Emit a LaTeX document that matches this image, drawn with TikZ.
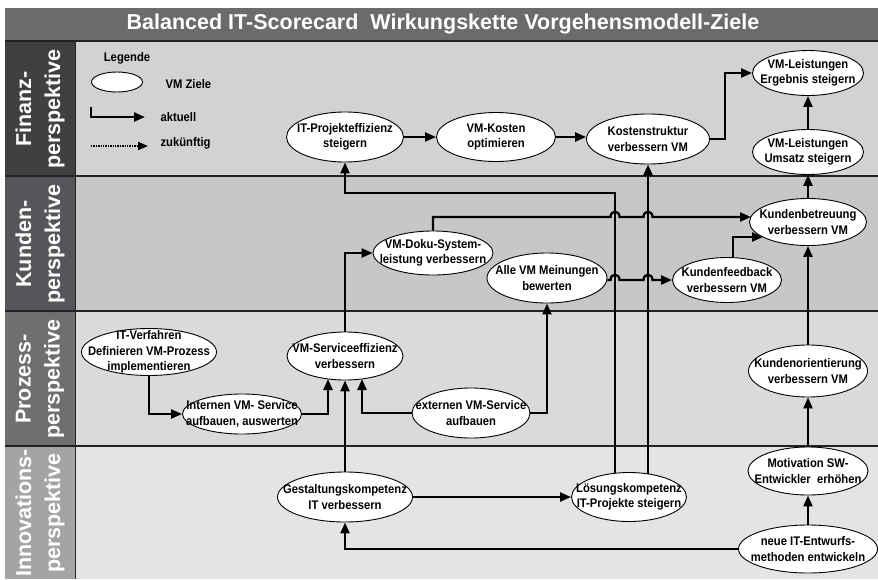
\documentclass[tikz,border=0pt]{standalone}
\usepackage{fontspec}
\setmainfont{Liberation Sans}
\newfontfamily\goalfont{Liberation Sans}[FakeStretch=0.9]
\usetikzlibrary{arrows.meta,shapes.geometric}
\pgfdeclarelayer{back}
\pgfdeclarelayer{mid}
\pgfsetlayers{back,mid,main}

\definecolor{titlegray}{HTML}{6B6B6E}
\definecolor{finhead}{HTML}{404042}
\definecolor{kunhead}{HTML}{555659}
\definecolor{prohead}{HTML}{6F6F72}
\definecolor{innhead}{HTML}{A4A4A7}
\definecolor{finlane}{HTML}{D1D2D4}
\definecolor{kunlane}{HTML}{C6C7C9}
\definecolor{prolane}{HTML}{D9DADC}
\definecolor{innlane}{HTML}{E4E4E6}
\definecolor{rule}{HTML}{222222}

\tikzset{
  goal/.style={ellipse, draw=black, line width=0.9pt, fill=white,
    inner xsep=-30pt, inner ysep=-15pt, align=center,
    font=\goalfont\bfseries\fontsize{12.5}{15.5}\selectfont},
  flow/.style={line width=2.3pt, -{Triangle[length=11pt,width=9pt]}},
  future/.style={line width=1.9pt, dash pattern=on 1.3pt off 1.1pt,
    -{Triangle[length=10pt,width=8pt]}},
  lanehead/.style={rotate=90, text=white, align=center,
    font=\bfseries\fontsize{21.5}{29}\selectfont},
  legendtext/.style={font=\goalfont\bfseries\fontsize{12.5}{14}\selectfont},
  sep/.style={draw=rule, line width=1.1pt},
}

\begin{document}
\begin{tikzpicture}[x=1pt,y=-1pt]
\useasboundingbox (0,0) rectangle (878,579);

% ---------- frame: title bar, lanes, lane headings ----------
\begin{pgfonlayer}{back}
  \fill[white] (0,0) rectangle (878,579);
  \fill[titlegray] (5,8) rectangle (878,41);
  \fill[finlane] (75,41) rectangle (878,176);
  \fill[kunlane] (75,176) rectangle (878,311);
  \fill[prolane] (75,311) rectangle (878,446);
  \fill[innlane] (75,446) rectangle (878,579);
  \fill[finhead] (5,41) rectangle (75,176);
  \fill[kunhead] (5,176) rectangle (75,311);
  \fill[prohead] (5,311) rectangle (75,446);
  \fill[innhead] (5,446) rectangle (75,579);
  \draw[sep] (5,41) -- (878,41);
  \draw[sep] (5,176) -- (878,176);
  \draw[sep] (5,311) -- (878,311);
  \draw[sep] (5,446) -- (878,446);
  \draw[sep] (75.5,41) -- (75.5,579);
\end{pgfonlayer}

\node[text=white, font=\bfseries\fontsize{21.5}{24}\selectfont] (title) at (443,24)
  {Balanced IT-Scorecard\ \ Wirkungskette Vorgehensmodell-Ziele};

\node[lanehead] (hfin) at (40,109) {Finanz-\\perspektive};
\node[lanehead] (hkun) at (40,244) {Kunden-\\perspektive};
\node[lanehead] (hpro) at (40,379) {Prozess-\\perspektive};
\node[lanehead] (hinn) at (40,513) {Innovations-\\perspektive};

% ---------- legend ----------
\node[legendtext] (legtitle) at (127,58) {Legende};
\node[goal, minimum width=51pt, minimum height=20pt] (legell) at (117,82) {};
\node[legendtext, anchor=west] (legziele) at (162,84) {VM Ziele};
\coordinate (akt0) at (91,107);
\coordinate (akt1) at (145,117);
\node[legendtext, anchor=west] (legakt) at (157,117) {aktuell};
\coordinate (zuk0) at (91,146);
\coordinate (zuk1) at (148,146);
\node[legendtext, anchor=west] (legzuk) at (157,143) {zukünftig};

% ---------- goals ----------
\node[goal, minimum width=117pt, minimum height=50pt] (itp) at (345,137) {IT-Projekteffizienz\\steigern};
\node[goal, minimum width=119pt, minimum height=49pt] (vmk) at (496,137) {VM-Kosten\\optimieren};
\node[goal, minimum width=123pt, minimum height=50pt] (kst) at (648,139) {Kostenstruktur\\verbessern VM};
\node[goal, minimum width=111pt, minimum height=45pt] (erg) at (808,73) {VM-Leistungen\\Ergebnis steigern};
\node[goal, minimum width=111pt, minimum height=45pt] (ums) at (808,152) {VM-Leistungen\\Umsatz steigern};

\node[goal, minimum width=117pt, minimum height=47pt] (kbt) at (808,222) {Kundenbetreuung\\verbessern VM};
\node[goal, minimum width=109pt, minimum height=45pt] (kfb) at (727,280) {Kundenfeedback\\verbessern VM};
\node[goal, minimum width=120pt, minimum height=44pt] (doku) at (433,253) {VM-Doku-System-\\leistung verbessern};
\node[goal, minimum width=120pt, minimum height=50pt] (alle) at (547,278) {Alle VM Meinungen\\bewerten};

\node[goal, minimum width=135pt, minimum height=47pt] (itv) at (149,352) {IT-Verfahren\\Definieren VM-Prozess\\implementieren};
\node[goal, minimum width=119pt, minimum height=40pt] (int) at (242,414) {Internen VM- Service\\aufbauen, auswerten};
\node[goal, minimum width=116pt, minimum height=48pt] (vms) at (345,356) {VM-Serviceeffizienz\\verbessern};
\node[goal, minimum width=118pt, minimum height=50pt] (ext) at (471,413) {externen VM-Service\\aufbauen};
\node[goal, minimum width=119pt, minimum height=52pt] (kor) at (808,371) {Kundenorientierung\\verbessern VM};

\node[goal, minimum width=135pt, minimum height=50pt] (ges) at (345,497) {Gestaltungskompetenz\\IT verbessern};
\node[goal, minimum width=115pt, minimum height=49pt] (lsg) at (629,497) {Lösungskompetenz\\IT-Projekte steigern};
\node[goal, minimum width=120pt, minimum height=48pt] (mot) at (808,471) {Motivation SW-\\Entwickler\ \ erhöhen};
\node[goal, minimum width=139pt, minimum height=48pt] (neu) at (808,549) {neue IT-Entwurfs-\\methoden entwickeln};

% ---------- bend and crossing points ----------
\coordinate (kbtTop) at (751,217);
\coordinate (kbtLow) at (763,237);
\coordinate (vmsL) at (328,379);
\coordinate (vmsR) at (362,379);
\coordinate (itpRow) at (400,193);
\coordinate (hopA1) at (610.5,217);
\coordinate (hopA2) at (619.5,217);
\coordinate (hopB1) at (643.5,217);
\coordinate (hopB2) at (652.5,217);
\coordinate (hopC1) at (610.5,280);
\coordinate (hopC2) at (619.5,280);
\coordinate (hopD1) at (643.5,280);
\coordinate (hopD2) at (652.5,280);

% ---------- connectors ----------
\begin{pgfonlayer}{mid}
  \draw[flow] (akt0) |- (akt1);
  \draw[future] (zuk0) -- (zuk1);

  \draw[flow] (itp.east) -- (vmk.west);
  \draw[flow] (vmk.east) -- (vmk.east -| kst.west);
  \draw[flow] (kst.east) -- ++(15,0) |- (erg.west);
  \draw[flow] (ums.north) -- (erg.south);
  \draw[flow] (kbt.north) -- (ums.south);
  \draw[flow] (kor.north) -- (kbt.south);
  \draw[flow] (mot.north) -- (kor.south);
  \draw[flow] (neu.north) -- (mot.south);

  \draw[flow] (neu) -| (ges.south);
  \draw[flow] (ges.east) -- (lsg.west);
  \draw[flow] (ges.north) -- (vms.south);
  \draw[flow] (int) -| (vmsL);
  \draw[flow] (ext) -| (vmsR);
  \draw[flow] (ext) -| (alle.south);
  \draw[flow] (itv) |- (int.west);
  \draw[flow] (vms) |- (doku.west);

  \draw[flow] ([xshift=-14pt]lsg.center) |- (itpRow) -| (itp.south);
  \draw[flow] ([xshift=19pt]lsg.center) -- (kst.south);

  \draw[flow] (doku) |- (hopA1)
    .. controls +(0,-7) and +(0,-7) .. (hopA2) -- (hopB1)
    .. controls +(0,-7) and +(0,-7) .. (hopB2) -- (kbtTop);
  \draw[flow] (alle) -- (hopC1)
    .. controls +(0,-7) and +(0,-7) .. (hopC2) -- (hopD1)
    .. controls +(0,-7) and +(0,-7) .. (hopD2) -- (kfb.west);
  \draw[flow] ([xshift=6pt]kfb.center) |- (kbtLow);
\end{pgfonlayer}
\end{tikzpicture}
\end{document}
